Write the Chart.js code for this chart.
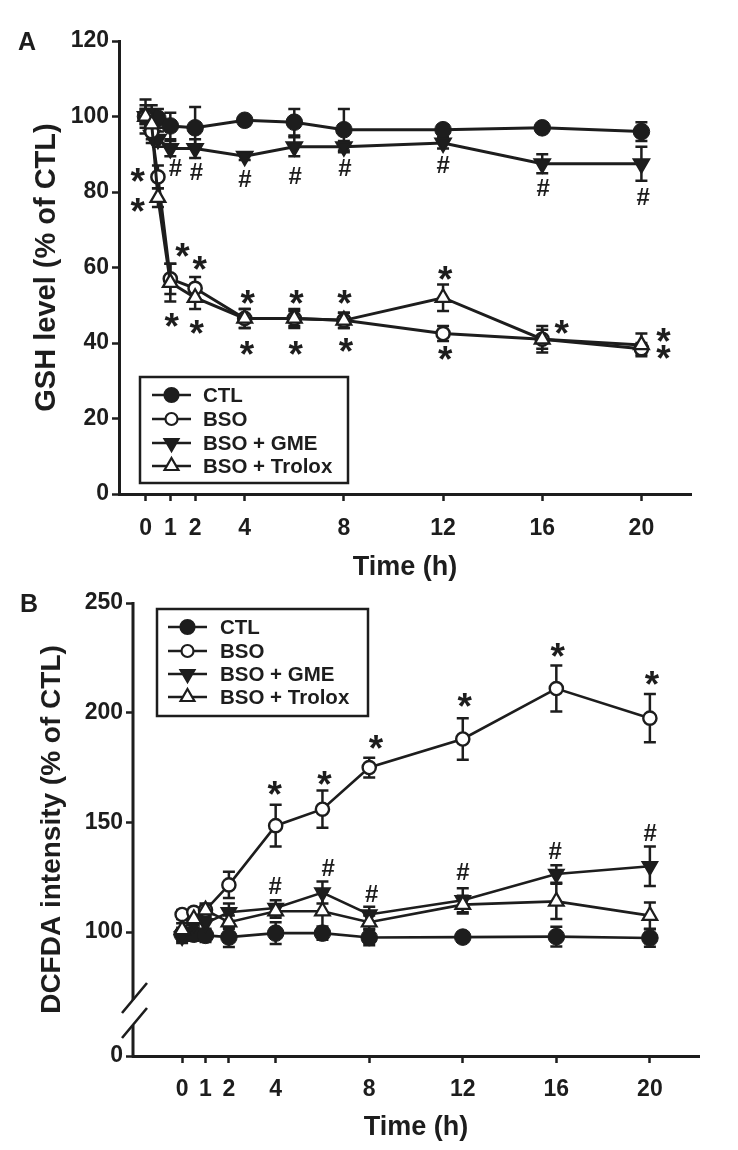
<!DOCTYPE html>
<html><head><meta charset="utf-8">
<script src="https://cdn.jsdelivr.net/npm/chart.js@4.4.0/dist/chart.umd.min.js"></script>
<style>
html,body{margin:0;padding:0;background:#fff;}
body{width:738px;height:1150px;position:relative;overflow:hidden;}
canvas{position:absolute;left:0;}
#ca{top:0;}
#cb{top:575px;}
</style></head><body>
<canvas id="ca" width="738" height="600"></canvas>
<canvas id="cb" width="738" height="575"></canvas>
<script>
const INK = '#1d1d1d';
const FONT = '"Liberation Sans", Arial, Helvetica, sans-serif';

// ---------- common ----------
const seriesNames = ['CTL', 'BSO', 'BSO + GME', 'BSO + Trolox'];

// ---------- Panel A : GSH level ----------
const timesA      = [0, 0.25, 0.5, 1, 2, 4, 6, 8, 12, 16, 20];
const gshCTL      = [100, 100, 99.5, 97.5, 97, 99, 98.5, 96.5, 96.5, 97, 96];
const gshCTLErr   = [4.5, 3, 2.5, 3.5, 5.5, 1, 3.5, 5.5, 1, 1, 2.5];
const gshBSO      = [100, 96, 84, 57, 54.5, 46.5, 46.5, 46, 42.5, 41, 38.5];
const gshBSOErr   = [3, 2, 3, 4, 3, 2.5, 2.5, 2, 2, 2.5, 1.5];
const gshGME      = [100, 95, 94, 91.5, 91.5, 89.5, 92, 92, 93, 87.5, 87.5];
const gshGMEErr   = [2, 2, 2, 2, 2.5, 1, 2.5, 1.5, 1.5, 2.5, 4.5];
const gshTrolox   = [100, 98, 78.5, 56, 52, 46.5, 46.5, 46, 52, 41, 39.5];
const gshTroloxErr= [2, 2, 2.5, 5, 3, 2.5, 2, 2, 3.5, 3.5, 3];
const xTicksA     = [0, 1, 2, 4, 8, 12, 16, 20];
const yTicksA     = [0, 20, 40, 60, 80, 100, 120];
// significance marks (time, value, symbol)
const sigATime  = [-0.3, -0.3, 1.2, 2.05, 4.0, 6.03, 8.04, 12.0, 16.03, 20.06, 1.5, 2.2, 1.07, 2.08, 4.13, 6.1, 8.04, 12.1, 4.1, 6.07, 8.1, 12.1, 16.8, 20.9, 20.9];
const sigAValue = [84.5, 76.6, 86.4, 85.3, 83.7, 84.5, 86.6, 87.2, 81.3, 78.7, 64.6, 61.2, 46.1, 44.2, 52.2, 52.2, 52.2, 58.5, 38.7, 38.7, 39.5, 37.3, 44.2, 42.1, 37.6];
const sigAMark  = ['*','*','#','#','#','#','#','#','#','#','*','*','*','*','*','*','*','*','*','*','*','*','*','*','*'];

// ---------- Panel B : DCFDA intensity ----------
const timesB      = [0, 0.5, 1, 2, 4, 6, 8, 12, 16, 20];
const dcfCTL      = [99, 99, 98.5, 97.7, 99.5, 99.5, 97.5, 97.7, 97.9, 97.3];
const dcfCTLErr   = [3, 3, 3, 4.5, 5, 3, 3.5, 2, 4.5, 4];
const dcfBSO      = [108, 109, 110, 121.5, 148.5, 156, 175, 188, 211, 197.5];
const dcfBSOErr   = [2, 2, 2, 6, 9.5, 8.5, 4.5, 9.5, 10.5, 11];
const dcfGME      = [98, 104, 104, 109, 111, 118, 108, 114.5, 126.5, 130];
const dcfGMEErr   = [3, 3, 3, 4, 3.5, 5, 3.5, 5.5, 4, 9];
const dcfTrolox   = [101, 106, 110, 104.5, 109.5, 109.5, 104.5, 112.5, 114, 107.5];
const dcfTroloxErr= [3, 3, 3, 3, 3, 9, 3, 4, 8, 6];
const xTicksB     = [0, 1, 2, 4, 8, 12, 16, 20];
const yTicksB     = [100, 150, 200, 250];
const yBreakBase  = 43.5;      // value drawn at the broken-axis origin
const yBreakLabel = '0';
const sigBTime  = [3.97, 6.1, 8.3, 12.1, 16.07, 20.1, 3.97, 6.24, 8.1, 12.0, 15.94, 20.0];
const sigBValue = [165.7, 170.2, 186.6, 205.8, 228.6, 215.8, 121.4, 129.6, 117.8, 127.4, 137.4, 145.6];
const sigBMark  = ['*','*','*','*','*','*','#','#','#','#','#','#'];

// ---------- styles ----------
const markStyles = [
  {pointStyle: 'circle',   fill: INK,    rotation: 0},
  {pointStyle: 'circle',   fill: '#fff', rotation: 0},
  {pointStyle: 'triangle', fill: INK,    rotation: 180},
  {pointStyle: 'triangle', fill: '#fff', rotation: 0},
];

function mkDataset(idx, times, vals, errs, sizes, lw) {
  const st = markStyles[idx];
  return {
    label: seriesNames[idx],
    data: times.map((t, i) => ({x: t, y: vals[i]})),
    errors: errs,
    borderColor: INK,
    borderWidth: lw,
    pointStyle: st.pointStyle,
    rotation: st.rotation,
    pointRadius: sizes[idx].r,
    pointHoverRadius: sizes[idx].r,
    pointBorderWidth: sizes[idx].bw,
    pointBackgroundColor: st.fill,
    pointBorderColor: INK,
    tension: 0,
    fill: false,
    order: [4, 2, 3, 1][idx],
    clip: false
  };
}

function drawMarker(ctx, idx, x, y, r, bw) {
  const st = markStyles[idx];
  ctx.save();
  ctx.fillStyle = st.fill; ctx.strokeStyle = INK; ctx.lineWidth = bw;
  ctx.beginPath();
  if (st.pointStyle === 'circle') {
    ctx.arc(x, y, r, 0, Math.PI * 2);
  } else {
    const rot = st.rotation * Math.PI / 180;
    for (let k = 0; k < 3; k++) {
      const a = rot + k * 2 * Math.PI / 3;
      const px = x + Math.sin(a) * r, py = y - Math.cos(a) * r;
      if (k === 0) ctx.moveTo(px, py); else ctx.lineTo(px, py);
    }
    ctx.closePath();
  }
  ctx.fill(); ctx.stroke();
  ctx.restore();
}

function drawMark(ctx, txt, x, y, size) {
  ctx.font = 'bold ' + size + 'px ' + FONT;
  ctx.textAlign = 'left'; ctx.textBaseline = 'alphabetic';
  const m = ctx.measureText(txt);
  const x0 = x - (m.actualBoundingBoxRight - m.actualBoundingBoxLeft) / 2;
  const y0 = y + (m.actualBoundingBoxAscent - m.actualBoundingBoxDescent) / 2;
  ctx.fillStyle = INK;
  ctx.fillText(txt, x0, y0);
}

const errorBars = {
  id: 'errorBars',
  beforeDatasetsDraw(chart, args, opts) {
    const ctx = chart.ctx, xs = chart.scales.x, ys = chart.scales.y;
    ctx.save();
    ctx.strokeStyle = INK; ctx.lineWidth = opts.lw; ctx.lineCap = 'butt';
    chart.data.datasets.forEach(ds => {
      ds.data.forEach((p, j) => {
        const e = ds.errors[j];
        const x = xs.getPixelForValue(p.x);
        const yt = ys.getPixelForValue(p.y + e), yb = ys.getPixelForValue(p.y - e);
        ctx.beginPath();
        ctx.moveTo(x, yt); ctx.lineTo(x, yb);
        ctx.moveTo(x - opts.cap, yt); ctx.lineTo(x + opts.cap, yt);
        ctx.moveTo(x - opts.cap, yb); ctx.lineTo(x + opts.cap, yb);
        ctx.stroke();
      });
    });
    ctx.restore();
  }
};

const decorations = {
  id: 'decorations',
  afterDraw(chart, args, o) {
    const ctx = chart.ctx, xs = chart.scales.x, ys = chart.scales.y;
    ctx.save();
    // significance marks
    o.sigT.forEach((t, i) => {
      const s = o.sigM[i] === '*' ? o.starSize : o.hashSize;
      drawMark(ctx, o.sigM[i], xs.getPixelForValue(t), ys.getPixelForValue(o.sigV[i]), s);
    });
    // legend
    const L = o.legend;
    ctx.strokeStyle = INK; ctx.lineWidth = 2.5;
    ctx.strokeRect(L.x0, L.y0, L.x1 - L.x0, L.y1 - L.y0);
    seriesNames.forEach((name, i) => {
      const y = L.rows[i];
      ctx.strokeStyle = INK; ctx.lineWidth = 2.5;
      ctx.beginPath(); ctx.moveTo(L.lx0, y); ctx.lineTo(L.lx1, y); ctx.stroke();
      drawMarker(ctx, i, (L.lx0 + L.lx1) / 2, y, L.r[i], 2.2);
      ctx.fillStyle = INK;
      ctx.font = 'bold ' + L.font + 'px ' + FONT;
      ctx.textAlign = 'left'; ctx.textBaseline = 'middle';
      ctx.fillText(name, L.tx, y + 1);
    });
    // panel letter
    ctx.font = 'bold 25px ' + FONT;
    ctx.textAlign = 'center'; ctx.textBaseline = 'middle';
    ctx.fillStyle = INK;
    ctx.fillText(o.letter, o.letterX, o.letterY);
    // broken y axis
    if (o.broken) {
      const x = chart.chartArea.left;
      const bot = chart.chartArea.bottom, top = chart.chartArea.top;
      ctx.strokeStyle = INK; ctx.lineWidth = 3;
      ctx.beginPath();
      ctx.moveTo(x, top - 1); ctx.lineTo(x, bot - 56);
      ctx.moveTo(x, bot - 31); ctx.lineTo(x, bot + 1.5);
      ctx.stroke();
      ctx.lineWidth = 2.6;
      ctx.beginPath();
      ctx.moveTo(x - 11, bot - 43); ctx.lineTo(x + 14, bot - 73);
      ctx.moveTo(x - 11, bot - 18); ctx.lineTo(x + 14, bot - 48);
      ctx.stroke();
    }
    ctx.restore();
  }
};

function tickFont(){ return {family: FONT, size: 23, weight: 'bold'}; }

function axisOpts(cfg) {
  return {
    type: 'linear', min: cfg.min, max: cfg.max,
    afterBuildTicks: s => { s.ticks = cfg.ticks.map(v => ({value: v})); },
    afterFit: s => { if (cfg.width) s.width = cfg.width; if (cfg.height) s.height = cfg.height; },
    ticks: {
      color: INK, font: tickFont(), padding: cfg.pad, autoSkip: false, maxRotation: 0,
      callback: cfg.label || (v => String(v))
    },
    grid: {display: true, drawOnChartArea: false, drawTicks: true, tickLength: 7, tickWidth: 2.5, tickColor: INK},
    border: {display: cfg.border !== false, color: INK, width: 3},
    title: {display: true, text: cfg.title, color: INK,
            font: {family: FONT, size: cfg.titleSize, weight: 'bold'},
            padding: cfg.titlePad}
  };
}

Chart.defaults.animation = false;

// ---------- Chart A ----------
const sizesA = [{r: 8.3, bw: 1}, {r: 6.6, bw: 2.5}, {r: 9, bw: 2}, {r: 8.5, bw: 2.3}];
new Chart(document.getElementById('ca'), {
  type: 'line',
  data: {datasets: [
    mkDataset(0, timesA, gshCTL, gshCTLErr, sizesA, 3),
    mkDataset(1, timesA, gshBSO, gshBSOErr, sizesA, 3),
    mkDataset(2, timesA, gshGME, gshGMEErr, sizesA, 3),
    mkDataset(3, timesA, gshTrolox, gshTroloxErr, sizesA, 3),
  ]},
  options: {
    responsive: false, devicePixelRatio: 1,
    layout: {padding: {top: 41, right: 47, bottom: 0, left: 0}},
    plugins: {
      legend: {display: false}, tooltip: {enabled: false},
      errorBars: {lw: 2.5, cap: 6},
      decorations: {
        sigT: sigATime, sigV: sigAValue, sigM: sigAMark, starSize: 37, hashSize: 24,
        legend: {x0: 140, y0: 377, x1: 348, y1: 483, rows: [395, 419, 443, 466],
                 lx0: 152, lx1: 191, tx: 203, font: 20.5, r: [7, 6, 8, 8]},
        letter: 'A', letterX: 27, letterY: 43, broken: false
      }
    },
    scales: {
      x: axisOpts({min: -1.07, max: 22, ticks: xTicksA, height: 106, pad: 14,
                   title: 'Time (h)', titleSize: 27, titlePad: {top: 0, bottom: 16}}),
      y: axisOpts({min: 0, max: 120, ticks: yTicksA, width: 119, pad: 3,
                   title: 'GSH level (% of CTL)', titleSize: 29, titlePad: {top: 30, bottom: 0}})
    }
  },
  plugins: [errorBars, decorations]
});

// ---------- Chart B ----------
const sizesB = [{r: 8.3, bw: 1}, {r: 6.6, bw: 2.4}, {r: 8.5, bw: 2}, {r: 8.5, bw: 2.2}];
new Chart(document.getElementById('cb'), {
  type: 'line',
  data: {datasets: [
    mkDataset(0, timesB, dcfCTL, dcfCTLErr, sizesB, 2.6),
    mkDataset(1, timesB, dcfBSO, dcfBSOErr, sizesB, 2.6),
    mkDataset(2, timesB, dcfGME, dcfGMEErr, sizesB, 2.6),
    mkDataset(3, timesB, dcfTrolox, dcfTroloxErr, sizesB, 2.6),
  ]},
  options: {
    responsive: false, devicePixelRatio: 1,
    layout: {padding: {top: 28, right: 39, bottom: 0, left: 0}},
    plugins: {
      legend: {display: false}, tooltip: {enabled: false},
      errorBars: {lw: 2.5, cap: 6},
      decorations: {
        sigT: sigBTime, sigV: sigBValue, sigM: sigBMark, starSize: 37, hashSize: 24,
        legend: {x0: 157, y0: 34, x1: 368, y1: 141, rows: [52, 76, 99, 122],
                 lx0: 168, lx1: 207, tx: 220, font: 20.5, r: [7, 6, 8, 8]},
        letter: 'B', letterX: 29, letterY: 30, broken: true
      }
    },
    scales: {
      x: axisOpts({min: -2.1, max: 22.1, ticks: xTicksB, height: 94, pad: 13,
                   title: 'Time (h)', titleSize: 27, titlePad: {top: 0, bottom: 6}}),
      y: axisOpts({min: yBreakBase, max: 250, ticks: [yBreakBase].concat(yTicksB), width: 133, pad: 3,
                   border: false,
                   label: v => (v === yBreakBase ? yBreakLabel : String(v)),
                   title: 'DCFDA intensity (% of CTL)', titleSize: 28, titlePad: {top: 35, bottom: 0}})
    }
  },
  plugins: [errorBars, decorations]
});
</script>
</body></html>
